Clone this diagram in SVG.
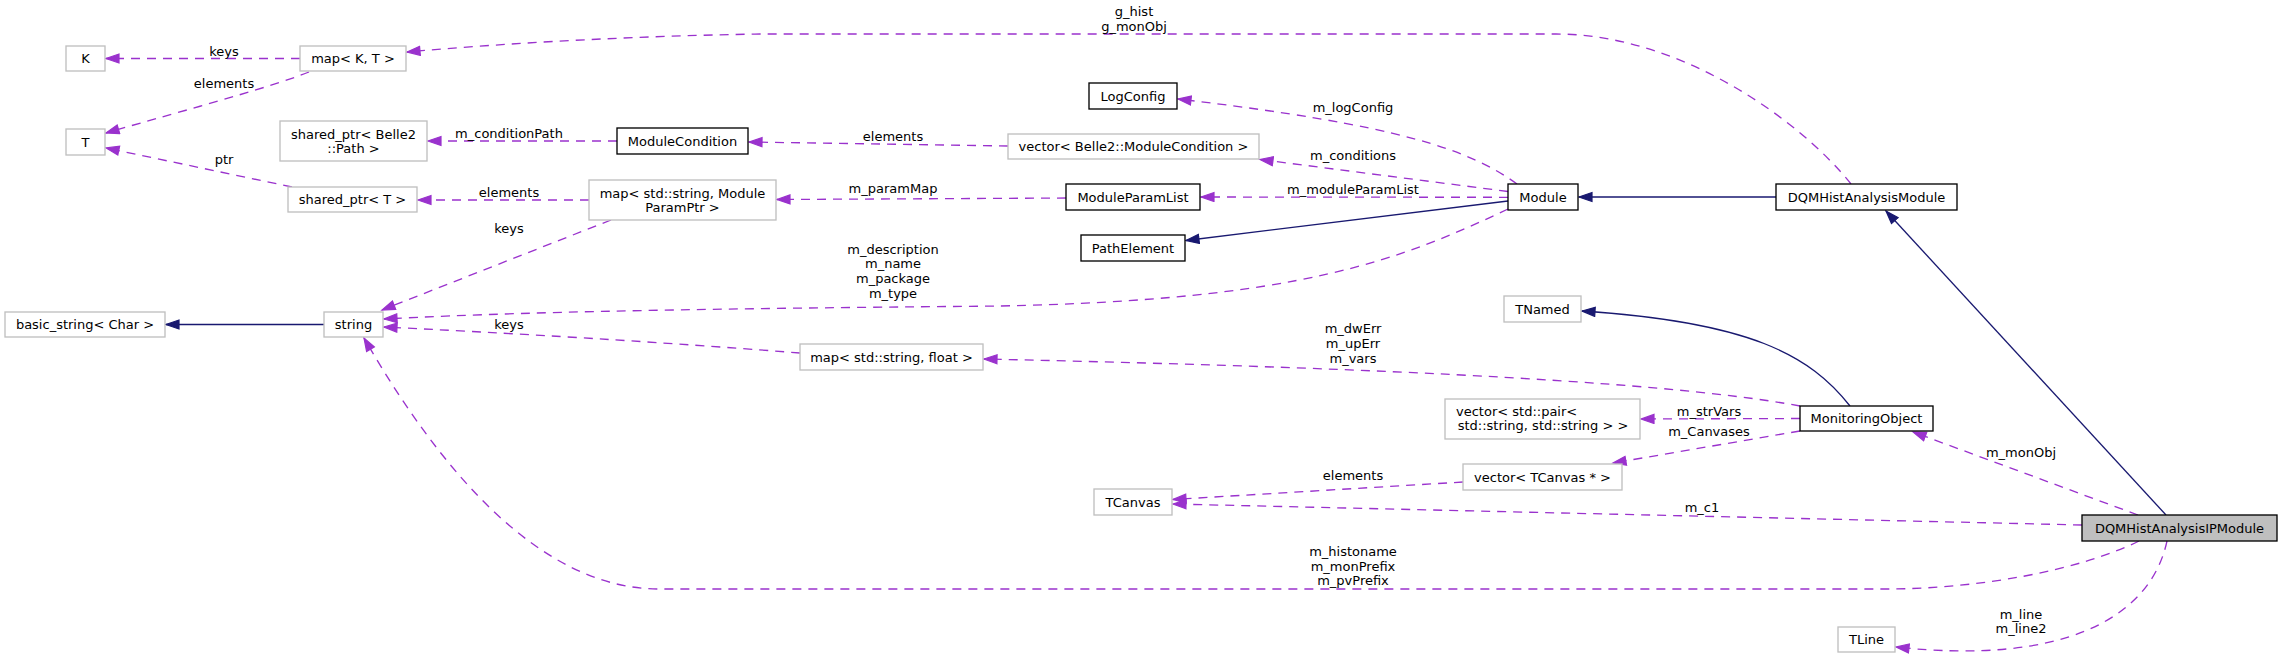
<svg xmlns="http://www.w3.org/2000/svg" width="2283" height="659" viewBox="0 0 2283 659">
<defs>
<style>
text{font-family:"DejaVu Sans","Liberation Sans",sans-serif;font-size:13px;fill:#000;text-anchor:middle}
.n{fill:#fff;stroke:#000;stroke-width:1.33}
.g{fill:#fff;stroke:#bfbfbf;stroke-width:1.33}
.h{fill:#bfbfbf;stroke:#000;stroke-width:1.33}
.u{fill:none;stroke:#9a32cd;stroke-width:1.33;stroke-dasharray:9,7;marker-end:url(#pa)}
.i{fill:none;stroke:#191970;stroke-width:1.33;marker-end:url(#ba)}
</style>
<marker id="pa" markerUnits="userSpaceOnUse" markerWidth="16" markerHeight="12" refX="14" refY="5.5" orient="auto" viewBox="0 0 16 12">
<polygon points="1,1 14,5.5 1,10" fill="#9a32cd" stroke="#9a32cd" stroke-width="1.2"/>
</marker>
<marker id="ba" markerUnits="userSpaceOnUse" markerWidth="16" markerHeight="12" refX="14" refY="5.5" orient="auto" viewBox="0 0 16 12">
<polygon points="1,1 14,5.5 1,10" fill="#191970" stroke="#191970" stroke-width="1.2"/>
</marker>
</defs>
<rect width="2283" height="659" fill="#fff"/>

<g id="edges">
<path class="u" d="M300,58.5 L106,58.5"/>
<path class="u" d="M309,72 C270,88 160,117 106,133"/>
<path class="u" d="M292,187 L106,148"/>
<path class="u" d="M617,141 L428,141"/>
<path class="u" d="M589,200 L418,200"/>
<path class="u" d="M1008,146 L749,142"/>
<path class="u" d="M1066,198 L777,199.5"/>
<path class="u" d="M1517,184 C1470,150 1400,125 1178,99"/>
<path class="u" d="M1508,191.5 L1260,159.5"/>
<path class="u" d="M1508,197.3 L1201,197"/>
<path class="i" d="M1508,201 L1186,240.5"/>
<path class="u" d="M1508,209 C1400,260 1300,300 1000,306 C800,308 550,310 384,319"/>
<path class="u" d="M611,220 L382,310"/>
<path class="u" d="M800,353 C700,345 550,335 384,327"/>
<path class="i" d="M324,324.5 L166,324.5"/>
<path class="i" d="M1850,406 C1810,355 1750,322 1582,311"/>
<path class="u" d="M1800,406 C1650,378 1300,366 984,359"/>
<path class="u" d="M1800,418.5 L1641,419"/>
<path class="u" d="M1800,431 L1613,463"/>
<path class="u" d="M1463,482 L1173,499.5"/>
<path class="u" d="M2082,525 L1173,504"/>
<path class="u" d="M2138,515 L1913,432"/>
<path class="i" d="M2166,515 L1886,211"/>
<path class="u" d="M2139,541 C2080,570 1980,589 1885,589 L659,589 C540,589 440,470 364,338"/>
<path class="u" d="M2167,541 C2150,620 2060,665 1896,647"/>
<path class="i" d="M1776,197 L1579,197"/>
<path class="u" d="M1851,184 C1800,120 1680,34 1556,34 L760,34 C640,36 520,42 407,52"/>
<text x="224" y="55.5">keys</text>
<text x="224" y="87.5">elements</text>
<text x="224" y="163.5">ptr</text>
<text x="509" y="137.5">m_conditionPath</text>
<text x="509" y="196.5">elements</text>
<text x="509" y="232.5">keys</text>
<text x="509" y="328.5">keys</text>
<text x="893" y="140.5">elements</text>
<text x="893" y="192.5">m_paramMap</text>
<text x="893" y="253.5">m_description</text>
<text x="893" y="268">m_name</text>
<text x="893" y="283">m_package</text>
<text x="893" y="297.5">m_type</text>
<text x="1134" y="16">g_hist</text>
<text x="1134" y="31">g_monObj</text>
<text x="1353" y="111.5">m_logConfig</text>
<text x="1353" y="159.5">m_conditions</text>
<text x="1353" y="193.5">m_moduleParamList</text>
<text x="1353" y="333">m_dwErr</text>
<text x="1353" y="348">m_upErr</text>
<text x="1353" y="363">m_vars</text>
<text x="1353" y="480">elements</text>
<text x="1353" y="556">m_histoname</text>
<text x="1353" y="570.5">m_monPrefix</text>
<text x="1353" y="585">m_pvPrefix</text>
<text x="1709" y="415.5">m_strVars</text>
<text x="1709" y="436">m_Canvases</text>
<text x="1702" y="511.5">m_c1</text>
<text x="2021" y="457">m_monObj</text>
<text x="2021" y="619">m_line</text>
<text x="2021" y="633">m_line2</text>
</g>

<g id="node-K"><rect class="g" x="66" y="46" width="39" height="25"/><text x="85.5" y="63">K</text></g>
<g id="node-mapKT"><rect class="g" x="300" y="46" width="106" height="25"/><text x="353" y="63">map&lt; K, T &gt;</text></g>
<g id="node-T"><rect class="g" x="66" y="129" width="39" height="26"/><text x="85.5" y="146.5">T</text></g>
<g id="node-sharedPath"><rect class="g" x="280" y="121" width="147" height="40"/><text x="353.5" y="138.5">shared_ptr&lt; Belle2</text><text x="353.5" y="152.5">::Path &gt;</text></g>
<g id="node-ModuleCondition"><rect class="n" x="617" y="128" width="131" height="26"/><text x="682.5" y="145.5">ModuleCondition</text></g>
<g id="node-sharedT"><rect class="g" x="288" y="187" width="129" height="25"/><text x="352.5" y="204">shared_ptr&lt; T &gt;</text></g>
<g id="node-mapParam"><rect class="g" x="589" y="180" width="187" height="40"/><text x="682.5" y="197.5">map&lt; std::string, Module</text><text x="682.5" y="211.5">ParamPtr &gt;</text></g>
<g id="node-LogConfig"><rect class="n" x="1089" y="83" width="88" height="26"/><text x="1133" y="100.5">LogConfig</text></g>
<g id="node-vecModCond"><rect class="g" x="1008" y="134" width="251" height="25"/><text x="1133.5" y="151">vector&lt; Belle2::ModuleCondition &gt;</text></g>
<g id="node-ModuleParamList"><rect class="n" x="1066" y="184" width="134" height="26"/><text x="1133" y="201.5">ModuleParamList</text></g>
<g id="node-Module"><rect class="n" x="1508" y="184" width="70" height="26"/><text x="1543" y="201.5">Module</text></g>
<g id="node-DQMHistAnalysisModule"><rect class="n" x="1776" y="184" width="181" height="26"/><text x="1866.5" y="201.5">DQMHistAnalysisModule</text></g>
<g id="node-PathElement"><rect class="n" x="1081" y="235" width="104" height="26"/><text x="1133" y="252.5">PathElement</text></g>
<g id="node-basic_string"><rect class="g" x="5" y="312" width="160" height="25"/><text x="85" y="329">basic_string&lt; Char &gt;</text></g>
<g id="node-string"><rect class="g" x="324" y="312" width="59" height="25"/><text x="353.5" y="329">string</text></g>
<g id="node-mapStrFloat"><rect class="g" x="800" y="344" width="183" height="26"/><text x="891.5" y="361.5">map&lt; std::string, float &gt;</text></g>
<g id="node-TNamed"><rect class="g" x="1504" y="296" width="77" height="26"/><text x="1542.5" y="313.5">TNamed</text></g>
<g id="node-vecPair"><rect class="g" x="1445" y="399" width="195" height="40"/><text x="1456" y="415.5" style="text-anchor:start">vector&lt; std::pair&lt;</text><text x="1543" y="429.5">std::string, std::string &gt; &gt;</text></g>
<g id="node-MonitoringObject"><rect class="n" x="1800" y="406" width="133" height="25"/><text x="1866.5" y="423">MonitoringObject</text></g>
<g id="node-vecTCanvas"><rect class="g" x="1463" y="464" width="159" height="26"/><text x="1542.5" y="481.5">vector&lt; TCanvas * &gt;</text></g>
<g id="node-TCanvas"><rect class="g" x="1094" y="489" width="78" height="26"/><text x="1133" y="506.5">TCanvas</text></g>
<g id="node-DQMHistAnalysisIPModule"><rect class="h" x="2082" y="515" width="195" height="26"/><text x="2179.5" y="532.5">DQMHistAnalysisIPModule</text></g>
<g id="node-TLine"><rect class="g" x="1838" y="627" width="57" height="25"/><text x="1866.5" y="644">TLine</text></g>
</svg>
